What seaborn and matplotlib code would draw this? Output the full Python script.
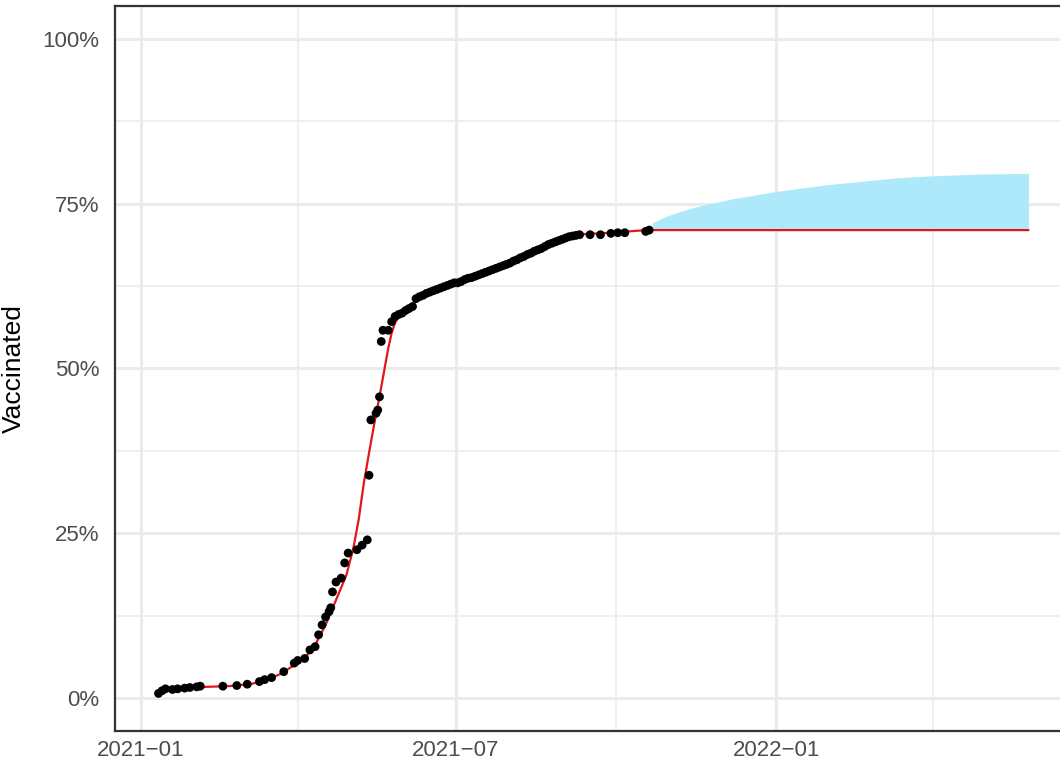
import pandas as pd
import numpy as np
import matplotlib
matplotlib.use("Agg")
import matplotlib.pyplot as plt
import matplotlib.dates as mdates
from matplotlib.ticker import PercentFormatter, FixedLocator
import seaborn as sns

# -------------------------------------------------------------
# Data (percent vaccinated)
# -------------------------------------------------------------
obs_dates = [
    "2021-01-11", "2021-01-13", "2021-01-15", "2021-01-19", "2021-01-22", "2021-01-26",
    "2021-01-29", "2021-02-02", "2021-02-04", "2021-02-17", "2021-02-25", "2021-03-03",
    "2021-03-10", "2021-03-13", "2021-03-17", "2021-03-24", "2021-03-30", "2021-04-01",
    "2021-04-05", "2021-04-08", "2021-04-11", "2021-04-13", "2021-04-15", "2021-04-17",
    "2021-04-19", "2021-04-20", "2021-04-21", "2021-04-23", "2021-04-26", "2021-04-28",
    "2021-04-30", "2021-05-05", "2021-05-08", "2021-05-11", "2021-05-12", "2021-05-13",
    "2021-05-16", "2021-05-17", "2021-05-18", "2021-05-19", "2021-05-20", "2021-05-23",
    "2021-05-25",
    "2021-05-27", "2021-05-29", "2021-05-31", "2021-06-02", "2021-06-04", "2021-06-06",
    "2021-06-08", "2021-06-10", "2021-06-12", "2021-06-14", "2021-06-16", "2021-06-18",
    "2021-06-20", "2021-06-22", "2021-06-24", "2021-06-26", "2021-06-28", "2021-06-30",
    "2021-07-02", "2021-07-04", "2021-07-06", "2021-07-08", "2021-07-10", "2021-07-12",
    "2021-07-14", "2021-07-16", "2021-07-18", "2021-07-20", "2021-07-22", "2021-07-24",
    "2021-07-26", "2021-07-28", "2021-07-30", "2021-08-01", "2021-08-03", "2021-08-05",
    "2021-08-07", "2021-08-09", "2021-08-11", "2021-08-13", "2021-08-15", "2021-08-17",
    "2021-08-19", "2021-08-21", "2021-08-23", "2021-08-25", "2021-08-27", "2021-08-29",
    "2021-08-31", "2021-09-02", "2021-09-04", "2021-09-06", "2021-09-08", "2021-09-10",
    "2021-09-16", "2021-09-22", "2021-09-28", "2021-10-02", "2021-10-06", "2021-10-18",
    "2021-10-20",
]
obs_pct = [
    0.7, 1.1, 1.4, 1.3, 1.4, 1.5,
    1.6, 1.7, 1.8, 1.8, 1.9, 2.1,
    2.5, 2.8, 3.1, 4.0, 5.3, 5.7,
    6.0, 7.3, 7.8, 9.6, 11.1, 12.3,
    13.1, 13.7, 16.1, 17.6, 18.2, 20.5,
    22.0, 22.5, 23.2, 24.0, 33.8, 42.2,
    43.2, 43.7, 45.7, 54.1, 55.8, 55.8,
    57.1,
    57.9, 58.2, 58.4, 58.8, 59.1, 59.4,
    60.6, 60.9, 61.1, 61.4, 61.6, 61.8,
    62.0, 62.2, 62.4, 62.6, 62.8, 63.0,
    63.0, 63.2, 63.5, 63.7, 63.8, 64.0,
    64.2, 64.4, 64.6, 64.8, 65.0, 65.2,
    65.4, 65.6, 65.8, 66.0, 66.3, 66.5,
    66.8, 67.0, 67.3, 67.5, 67.8, 68.0,
    68.2, 68.5, 68.8, 69.0, 69.2, 69.4,
    69.6, 69.8, 70.0, 70.1, 70.2, 70.3,
    70.3, 70.3, 70.5, 70.6, 70.6, 70.8,
    71.0,
]

# fitted curve (red)
fit_dates = [
    "2021-01-11", "2021-01-18", "2021-02-04", "2021-02-21", "2021-03-05", "2021-03-14",
    "2021-03-22", "2021-03-31", "2021-04-06", "2021-04-11", "2021-04-17", "2021-04-23",
    "2021-04-29", "2021-05-03", "2021-05-06", "2021-05-09", "2021-05-12", "2021-05-15",
    "2021-05-18", "2021-05-21", "2021-05-23", "2021-05-25", "2021-05-27", "2021-05-30",
    "2021-06-05", "2021-06-12", "2021-06-22", "2021-06-30", "2021-07-20", "2021-08-09",
    "2021-08-29", "2021-09-13", "2021-09-28", "2021-10-13", "2021-10-20", "2022-05-26",
]
fit_pct = [
    0.76, 1.37, 1.67, 1.82, 2.12, 2.73,
    3.64, 5.16, 6.37, 8.04, 11.08, 14.87,
    18.66, 22.76, 27.0, 32.6, 37.2, 41.6,
    45.7, 50.1, 53.0, 55.4, 57.0, 58.1,
    59.4, 61.2, 62.3, 63.0, 64.8, 67.0,
    69.4, 70.4, 70.6, 70.9, 71.0, 71.0,
]

# forecast band (light blue)
band_dates = [
    "2021-10-22", "2021-10-28", "2021-11-02", "2021-11-09", "2021-11-17", "2021-12-06",
    "2022-01-02", "2022-01-31", "2022-02-19", "2022-03-10", "2022-03-29", "2022-04-27",
    "2022-05-26",
]
band_low = [71.0, 71.0, 71.0, 71.0, 71.0, 71.0, 71.0, 71.0, 71.0, 71.0, 71.0, 71.0, 71.0]
band_high = [72.1, 72.9, 73.4, 74.0, 74.6, 75.7, 76.9, 77.9, 78.4, 78.9, 79.2, 79.5, 79.6]

obs = pd.DataFrame({"date": pd.to_datetime(obs_dates), "pct": obs_pct})
fit = pd.DataFrame({"date": pd.to_datetime(fit_dates), "pct": fit_pct})
band = pd.DataFrame({"date": pd.to_datetime(band_dates), "low": band_low, "high": band_high})

# -------------------------------------------------------------
# Plot (ggplot theme_bw look)
# -------------------------------------------------------------
sns.set_theme(style="white")
plt.rcParams["font.family"] = ["Liberation Sans", "DejaVu Sans"]

W, H = 1060, 763
fig = plt.figure(figsize=(W / 100, H / 100), dpi=100)
ax = fig.add_axes([115 / W, 1 - 731 / H, (1072 - 115) / W, (731 - 6) / H])

ax.fill_between(band["date"], band["low"], band["high"], color="#AEE8FB", lw=0, zorder=2)
sns.lineplot(data=fit, x="date", y="pct", color="#E3141C", lw=1.6, ax=ax, zorder=3)
sns.scatterplot(data=obs, x="date", y="pct", color="black", s=40, edgecolor="none", ax=ax, zorder=4)

# limits with ggplot-style 5% expansion
x0, x1 = obs["date"].min(), band["date"].max()
pad = (x1 - x0) * 0.05
ax.set_xlim(x0 - pad, x1 + pad)
ax.set_ylim(-5, 105)

ax.set_xticks(pd.to_datetime(["2021-01-01", "2021-07-01", "2022-01-01"]))
ax.xaxis.set_major_formatter(mdates.DateFormatter("%Y\u2212%m"))
ax.xaxis.set_minor_locator(FixedLocator(mdates.date2num(pd.to_datetime(["2021-04-01", "2021-10-01", "2022-04-01"]))))
ax.set_yticks([0, 25, 50, 75, 100])
ax.yaxis.set_minor_locator(FixedLocator([12.5, 37.5, 62.5, 87.5]))
ax.yaxis.set_major_formatter(PercentFormatter(xmax=100, decimals=0))

ax.grid(which="major", color="#EBEBEB", lw=2.2, zorder=0)
ax.grid(which="minor", color="#EBEBEB", lw=1.1, zorder=0)
ax.set_axisbelow(True)

for s in ax.spines.values():
    s.set_color("#333333")
    s.set_linewidth(1.6)

ax.tick_params(which="major", length=5, width=1.5, color="#333333",
               labelsize=16, labelcolor="#4D4D4D")
ax.tick_params(which="minor", length=0)
ax.tick_params(axis="x", pad=1.5)
ax.tick_params(axis="y", pad=6)

ax.set_xlabel("")
ax.set_ylabel("Vaccinated", fontsize=19, color="black", labelpad=12)

fig.savefig("out.png", dpi=100)
plt.close(fig)
